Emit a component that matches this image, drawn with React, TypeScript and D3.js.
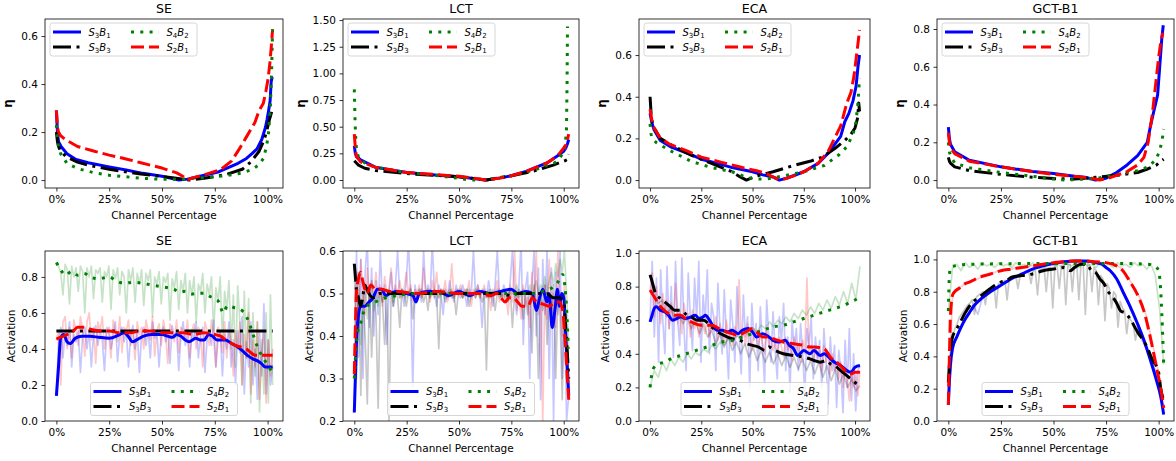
import React, { useEffect, useRef } from 'react';
import * as d3 from 'd3';

type Pt = [number, number];

// ---- top row: eta against channel percentage ----
const etaSE_S3B1: Pt[] = [[0, 0.29], [0.5, 0.2], [1, 0.16], [2.2, 0.14], [5, 0.11], [9.3, 0.086], [15, 0.072], [25, 0.055], [33, 0.042], [41, 0.028], [50, 0.016], [58, 0.0], [62, 0.004], [67, 0.014], [77, 0.035], [86, 0.07], [90, 0.09], [92.6, 0.11], [95, 0.13], [97.3, 0.17], [99, 0.22], [99.7, 0.25], [100.5, 0.29], [101.2, 0.33], [101.7, 0.41], [102.2, 0.43]];
const etaSE_S3B3: Pt[] = [[0, 0.2], [0.5, 0.16], [1, 0.14], [2, 0.12], [5, 0.095], [10, 0.075], [15, 0.062], [25, 0.045], [40, 0.025], [55, 0.01], [63, 0.0], [70, 0.008], [80, 0.022], [88, 0.045], [92, 0.075], [96, 0.12], [98, 0.16], [99.5, 0.2], [100.8, 0.25], [101.8, 0.28], [102.4, 0.3]];
const etaSE_S4B2: Pt[] = [[0, 0.23], [0.5, 0.17], [1, 0.14], [2, 0.11], [5, 0.07], [10, 0.048], [18, 0.03], [25, 0.02], [40, 0.008], [50, 0.003], [60, 0.004], [70, 0.01], [80, 0.018], [88, 0.03], [93, 0.045], [96, 0.065], [98, 0.09], [99.5, 0.14], [100.5, 0.2], [101.3, 0.3], [101.9, 0.45], [102.4, 0.64]];
const etaSE_S2B1: Pt[] = [[0, 0.29], [0.5, 0.22], [1, 0.2], [2, 0.185], [4, 0.17], [10, 0.14], [18, 0.12], [25, 0.104], [33, 0.088], [40, 0.072], [50, 0.05], [57, 0.03], [60, 0.015], [62, 0.0], [64, 0.008], [70, 0.022], [78, 0.045], [83, 0.08], [87, 0.135], [90, 0.18], [92, 0.21], [94, 0.24], [96, 0.29], [98, 0.32], [99.2, 0.37], [100.2, 0.42], [101, 0.48], [101.7, 0.55], [102.3, 0.62]];

const etaLCT_S3B1: Pt[] = [[0, 0.32], [0.5, 0.25], [1, 0.22], [3, 0.19], [10, 0.12], [25, 0.07], [40, 0.045], [50, 0.03], [58, 0.012], [63, 0.0], [70, 0.02], [75, 0.04], [82, 0.08], [87, 0.12], [92, 0.16], [95, 0.2], [98, 0.24], [100, 0.27], [101, 0.3], [101.8, 0.34], [102.4, 0.38]];
const etaLCT_S3B3: Pt[] = [[0, 0.18], [1, 0.16], [2, 0.14], [5, 0.11], [10, 0.09], [25, 0.06], [50, 0.03], [63, 0.0], [75, 0.04], [85, 0.08], [90, 0.11], [95, 0.14], [99, 0.17], [100.5, 0.18], [101.5, 0.19], [102, 0.22], [102.4, 0.24]];
const etaLCT_S4B2: Pt[] = [[0, 0.85], [0.3, 0.6], [0.6, 0.42], [1, 0.3], [2, 0.21], [5, 0.16], [10, 0.12], [25, 0.07], [40, 0.04], [50, 0.015], [55, 0.0], [63, 0.002], [68, 0.02], [75, 0.04], [85, 0.09], [90, 0.12], [92, 0.14], [95, 0.15], [98, 0.2], [99.5, 0.25], [100.5, 0.3], [101.3, 0.45], [101.6, 0.9], [101.8, 1.44]];
const etaLCT_S2B1: Pt[] = [[0, 0.43], [0.5, 0.3], [1, 0.22], [3, 0.17], [10, 0.12], [25, 0.07], [40, 0.05], [50, 0.035], [58, 0.015], [63, 0.0], [70, 0.02], [75, 0.04], [82, 0.08], [87, 0.12], [92, 0.16], [95, 0.2], [98, 0.25], [100, 0.3], [101, 0.33], [101.8, 0.38], [102.4, 0.43]];

const etaECA_S3B1: Pt[] = [[0, 0.32], [1, 0.27], [2, 0.24], [5, 0.19], [10, 0.16], [18, 0.13], [25, 0.1], [33, 0.08], [40, 0.06], [50, 0.04], [55, 0.025], [60, 0.015], [63, 0.0], [67, 0.01], [75, 0.04], [82, 0.08], [87, 0.13], [90, 0.17], [93, 0.21], [95, 0.28], [97, 0.32], [99, 0.38], [100.5, 0.45], [101.5, 0.55], [102.2, 0.6]];
const etaECA_S3B3: Pt[] = [[0, 0.4], [0.5, 0.32], [1, 0.28], [2, 0.25], [5, 0.2], [10, 0.17], [20, 0.12], [30, 0.08], [40, 0.04], [44, 0.015], [47, 0.0], [52, 0.02], [60, 0.04], [70, 0.07], [78, 0.09], [84, 0.11], [90, 0.15], [95, 0.19], [98, 0.22], [100, 0.25], [101.3, 0.3], [101.8, 0.37], [102.2, 0.33]];
const etaECA_S4B2: Pt[] = [[0, 0.27], [0.5, 0.22], [1, 0.2], [3, 0.18], [10, 0.14], [20, 0.09], [30, 0.06], [40, 0.04], [48, 0.01], [52, 0.005], [57, 0.005], [65, 0.02], [75, 0.04], [85, 0.07], [92, 0.12], [96, 0.16], [99, 0.22], [100.5, 0.28], [101.5, 0.38], [102.2, 0.49]];
const etaECA_S2B1: Pt[] = [[0, 0.34], [1, 0.28], [2, 0.25], [5, 0.2], [10, 0.17], [18, 0.14], [25, 0.11], [35, 0.085], [45, 0.06], [52, 0.045], [57, 0.03], [61, 0.01], [64, 0.0], [70, 0.02], [75, 0.04], [82, 0.08], [87, 0.14], [90, 0.2], [93, 0.26], [96, 0.37], [98, 0.42], [99.5, 0.5], [100.5, 0.58], [101.5, 0.66], [102.2, 0.72]];

const etaGCT_S3B1: Pt[] = [[0, 0.28], [0.5, 0.22], [1, 0.19], [3, 0.15], [10, 0.105], [25, 0.07], [40, 0.045], [50, 0.035], [60, 0.02], [65, 0.015], [70, 0.0], [75, 0.01], [80, 0.04], [85, 0.08], [90, 0.13], [92, 0.16], [94.6, 0.2], [96, 0.28], [97.4, 0.35], [99.5, 0.45], [100.5, 0.6], [101.5, 0.75], [102.2, 0.82]];
const etaGCT_S3B3: Pt[] = [[0, 0.12], [0.5, 0.1], [1, 0.09], [3, 0.07], [10, 0.05], [25, 0.03], [40, 0.015], [50, 0.008], [60, 0.005], [70, 0.015], [80, 0.025], [90, 0.04], [95, 0.06], [99, 0.08], [101, 0.1], [102.4, 0.11]];
const etaGCT_S4B2: Pt[] = [[0, 0.2], [0.5, 0.15], [1, 0.13], [3, 0.09], [10, 0.065], [25, 0.04], [40, 0.02], [50, 0.005], [55, 0.0], [65, 0.005], [72, 0.012], [80, 0.03], [90, 0.05], [95, 0.07], [98, 0.1], [100, 0.14], [101.5, 0.2], [102.4, 0.27]];
const etaGCT_S2B1: Pt[] = [[0, 0.25], [0.5, 0.2], [1, 0.17], [3, 0.14], [10, 0.1], [25, 0.07], [40, 0.045], [50, 0.03], [60, 0.02], [68, 0.01], [72, 0.0], [76, 0.01], [80, 0.025], [85, 0.045], [90, 0.08], [93, 0.12], [95, 0.2], [97, 0.35], [98.5, 0.5], [100, 0.65], [101, 0.73], [102, 0.78]];

// ---- bottom row: smoothed activation ----
const actSE_S3B1: Pt[] = [[0, 0.14], [1, 0.3], [2, 0.46], [3.5, 0.48], [5, 0.44], [6.5, 0.43], [9, 0.46], [12, 0.47], [16, 0.47], [20, 0.465], [25, 0.46], [30, 0.48], [32, 0.49], [34, 0.47], [36, 0.44], [38, 0.45], [41, 0.47], [45, 0.48], [50, 0.48], [53, 0.47], [55, 0.465], [57, 0.48], [59, 0.47], [61, 0.45], [63, 0.44], [66, 0.46], [68, 0.45], [70, 0.45], [72, 0.48], [74, 0.47], [76, 0.45], [80, 0.45], [83, 0.43], [86, 0.41], [89, 0.38], [91, 0.36], [93, 0.345], [95, 0.335], [97, 0.32], [99, 0.3], [102.4, 0.3]];
const actSE_S3B3: Pt[] = [[0, 0.5], [25, 0.5], [50, 0.5], [75, 0.5], [102.4, 0.5]];
const actSE_S4B2: Pt[] = [[0, 0.88], [2, 0.84], [4.6, 0.81], [7, 0.83], [10, 0.81], [13, 0.82], [16, 0.8], [20, 0.79], [25, 0.8], [28, 0.78], [32, 0.765], [36, 0.77], [41, 0.765], [45, 0.755], [50, 0.745], [53, 0.74], [56, 0.73], [58, 0.715], [61, 0.72], [64, 0.705], [67, 0.71], [70, 0.71], [73, 0.69], [75, 0.68], [77, 0.66], [79, 0.6], [81, 0.64], [84, 0.63], [87, 0.62], [90, 0.58], [92, 0.52], [94, 0.45], [96, 0.39], [98, 0.35], [100, 0.31], [102.4, 0.27]];
const actSE_S2B1: Pt[] = [[0, 0.455], [3, 0.47], [5, 0.48], [8, 0.5], [10, 0.52], [13, 0.52], [16, 0.51], [20, 0.5], [25, 0.5], [30, 0.49], [35, 0.49], [40, 0.5], [45, 0.5], [50, 0.49], [55, 0.49], [60, 0.49], [65, 0.48], [70, 0.49], [75, 0.48], [78, 0.47], [80, 0.45], [83, 0.43], [86, 0.415], [88, 0.41], [90, 0.4], [92, 0.38], [94, 0.365], [97, 0.365], [102.4, 0.365]];

const actLCT_S3B1: Pt[] = [[0, 0.22], [0.5, 0.3], [1, 0.38], [2, 0.45], [3, 0.47], [5, 0.47], [7, 0.48], [9, 0.49], [11, 0.51], [13, 0.51], [15, 0.495], [17, 0.5], [20, 0.505], [25, 0.5], [28, 0.495], [29.5, 0.48], [31, 0.5], [35, 0.505], [40, 0.505], [45, 0.495], [50, 0.505], [55, 0.495], [60, 0.505], [65, 0.5], [70, 0.505], [75, 0.51], [78, 0.5], [82, 0.505], [85, 0.5], [87, 0.46], [88.5, 0.49], [90, 0.51], [92, 0.48], [93, 0.5], [94.5, 0.42], [96, 0.47], [97, 0.51], [98, 0.47], [99, 0.5], [100, 0.49], [101, 0.4], [102.4, 0.26]];
const actLCT_S3B3: Pt[] = [[0, 0.57], [0.5, 0.54], [1, 0.51], [2, 0.49], [3, 0.47], [4, 0.49], [5, 0.52], [6, 0.51], [7, 0.5], [9, 0.49], [12, 0.5], [15, 0.5], [20, 0.5], [30, 0.5], [40, 0.5], [50, 0.5], [60, 0.5], [70, 0.5], [75, 0.495], [78, 0.5], [82, 0.5], [88, 0.5], [92, 0.5], [95, 0.49], [98, 0.49], [100, 0.48], [101, 0.42], [102.4, 0.3]];
const actLCT_S4B2: Pt[] = [[0, 0.3], [1, 0.38], [2, 0.42], [3, 0.43], [4, 0.45], [6, 0.47], [10, 0.48], [15, 0.49], [20, 0.495], [30, 0.5], [40, 0.5], [50, 0.5], [60, 0.5], [70, 0.5], [80, 0.5], [85, 0.5], [90, 0.505], [93, 0.51], [95, 0.515], [97, 0.525], [98.5, 0.54], [99.5, 0.545], [100.5, 0.52], [101.3, 0.47], [101.8, 0.42], [102.2, 0.37]];
const actLCT_S2B1: Pt[] = [[0, 0.31], [0.5, 0.42], [1, 0.5], [2, 0.535], [3, 0.55], [4, 0.53], [5, 0.51], [6, 0.5], [8, 0.52], [10, 0.51], [13, 0.51], [17, 0.505], [20, 0.505], [30, 0.5], [40, 0.505], [50, 0.5], [60, 0.5], [65, 0.495], [68, 0.5], [70, 0.49], [72, 0.48], [74, 0.49], [76, 0.49], [78, 0.48], [80, 0.47], [83, 0.47], [85, 0.49], [87, 0.48], [90, 0.475], [93, 0.47], [96, 0.48], [98, 0.48], [99.5, 0.46], [100.5, 0.4], [101.5, 0.32], [102.4, 0.25]];

const actECA_S3B1: Pt[] = [[0, 0.59], [1, 0.63], [2, 0.67], [3, 0.68], [5, 0.66], [7, 0.65], [9, 0.63], [11, 0.6], [13, 0.61], [15, 0.62], [17, 0.61], [20, 0.62], [22, 0.63], [24, 0.61], [26, 0.62], [27, 0.63], [29, 0.6], [31, 0.56], [33, 0.54], [35, 0.54], [38, 0.53], [40, 0.54], [43, 0.52], [45, 0.54], [48, 0.55], [50, 0.53], [52, 0.5], [55, 0.52], [58, 0.5], [60, 0.48], [63, 0.47], [66, 0.48], [68, 0.45], [70, 0.43], [72, 0.39], [75, 0.42], [78, 0.4], [80, 0.42], [83, 0.39], [85, 0.4], [88, 0.37], [90, 0.35], [93, 0.33], [96, 0.3], [98, 0.29], [100, 0.32], [102.4, 0.33]];
const actECA_S3B3: Pt[] = [[0, 0.87], [1, 0.83], [3, 0.75], [5, 0.73], [8, 0.7], [10, 0.68], [12, 0.66], [15, 0.66], [18, 0.63], [20, 0.62], [23, 0.6], [26, 0.6], [30, 0.56], [33, 0.53], [36, 0.51], [40, 0.49], [44, 0.48], [47, 0.46], [50, 0.45], [53, 0.44], [56, 0.42], [58, 0.44], [61, 0.42], [65, 0.4], [70, 0.39], [75, 0.38], [78, 0.37], [80, 0.36], [83, 0.35], [86, 0.36], [88, 0.34], [90, 0.33], [93, 0.3], [96, 0.27], [99, 0.24], [101, 0.22], [102.4, 0.21]];
const actECA_S4B2: Pt[] = [[0, 0.2], [0.5, 0.25], [1, 0.29], [2, 0.32], [4, 0.34], [7, 0.35], [10, 0.37], [15, 0.39], [20, 0.41], [25, 0.43], [30, 0.45], [35, 0.47], [40, 0.48], [45, 0.5], [50, 0.52], [55, 0.54], [60, 0.56], [65, 0.57], [70, 0.59], [75, 0.61], [80, 0.63], [85, 0.65], [90, 0.67], [95, 0.69], [98, 0.71], [100, 0.72], [102.4, 0.74]];
const actECA_S2B1: Pt[] = [[0, 0.78], [2, 0.74], [4, 0.7], [6, 0.67], [9, 0.64], [12, 0.63], [15, 0.63], [18, 0.6], [20, 0.59], [25, 0.57], [30, 0.57], [35, 0.54], [40, 0.52], [43, 0.51], [45, 0.52], [48, 0.54], [50, 0.55], [52, 0.53], [55, 0.5], [58, 0.5], [60, 0.49], [65, 0.47], [70, 0.46], [75, 0.45], [78, 0.44], [80, 0.44], [85, 0.43], [88, 0.38], [90, 0.36], [93, 0.33], [96, 0.29], [98, 0.28], [100, 0.29], [102.4, 0.29]];

const actGCT_S3B1: Pt[] = [[0, 0.1], [0.5, 0.25], [1, 0.35], [2, 0.45], [4, 0.52], [6, 0.58], [8, 0.63], [10, 0.67], [12, 0.71], [15, 0.75], [20, 0.8], [25, 0.84], [30, 0.88], [35, 0.91], [40, 0.94], [45, 0.96], [50, 0.975], [55, 0.985], [60, 0.99], [65, 0.99], [70, 0.98], [73, 0.97], [75, 0.95], [77, 0.93], [80, 0.88], [83, 0.8], [86, 0.72], [90, 0.6], [93, 0.5], [96, 0.38], [99, 0.25], [101, 0.15], [102.4, 0.04]];
const actGCT_S3B3: Pt[] = [[0, 0.24], [0.5, 0.35], [1, 0.45], [2, 0.52], [4, 0.57], [6, 0.62], [8, 0.67], [10, 0.71], [12, 0.74], [15, 0.77], [20, 0.82], [25, 0.86], [28, 0.87], [30, 0.89], [35, 0.9], [40, 0.91], [45, 0.93], [50, 0.94], [55, 0.95], [58, 0.93], [60, 0.95], [63, 0.97], [66, 0.97], [68, 0.93], [70, 0.92], [72, 0.88], [74, 0.85], [76, 0.8], [78, 0.77], [80, 0.73], [82, 0.68], [84, 0.67], [86, 0.64], [90, 0.55], [94, 0.47], [97, 0.38], [100, 0.3], [101, 0.2], [102.4, 0.13]];
const actGCT_S4B2: Pt[] = [[0, 0.68], [0.5, 0.9], [1, 0.95], [3, 0.96], [10, 0.97], [50, 0.975], [80, 0.975], [95, 0.97], [98, 0.96], [100, 0.93], [101, 0.8], [102, 0.5], [102.4, 0.35]];
const actGCT_S2B1: Pt[] = [[0, 0.1], [0.5, 0.4], [1, 0.65], [2, 0.78], [3, 0.8], [5, 0.82], [8, 0.85], [10, 0.86], [15, 0.89], [20, 0.91], [25, 0.93], [30, 0.94], [35, 0.95], [40, 0.96], [45, 0.97], [50, 0.98], [55, 0.985], [60, 0.99], [65, 0.99], [70, 0.985], [75, 0.98], [80, 0.96], [83, 0.93], [86, 0.87], [90, 0.78], [93, 0.68], [96, 0.52], [99, 0.33], [101, 0.2], [102.4, 0.08]];

// ---- bottom row: raw activation, channels evenly spaced from 0 to 102.4% ----
const rawSE_S3B1 = [
  0.14, 0.45, 0.52, 0.35, 0.5, 0.42, 0.55, 0.3, 0.48, 0.44,
  0.5, 0.27, 0.47, 0.52, 0.4, 0.5, 0.3, 0.48, 0.53, 0.42,
  0.5, 0.45, 0.28, 0.49, 0.52, 0.4, 0.47, 0.55, 0.33, 0.48,
  0.52, 0.44, 0.5, 0.3, 0.47, 0.53, 0.4, 0.5, 0.27, 0.48,
  0.52, 0.42, 0.5, 0.35, 0.55, 0.46, 0.5, 0.3, 0.48, 0.52,
  0.44, 0.5, 0.32, 0.53, 0.46, 0.5, 0.28, 0.47, 0.55, 0.42,
  0.48, 0.3, 0.5, 0.45, 0.55, 0.35, 0.48, 0.52, 0.27, 0.46,
  0.5, 0.42, 0.56, 0.3, 0.46, 0.5, 0.25, 0.48, 0.4, 0.55,
  0.3, 0.45, 0.2, 0.5, 0.38, 0.58, 0.15, 0.44, 0.3, 0.55,
  0.2, 0.4, 0.12, 0.5, 0.25, 0.65, 0.15, 0.45, 0.2, 0.3];
const rawSE_S4B2 = [
  0.88, 0.86, 0.82, 0.7, 0.87, 0.84, 0.65, 0.86, 0.8, 0.85,
  0.72, 0.86, 0.83, 0.6, 0.85, 0.8, 0.86, 0.68, 0.84, 0.82,
  0.85, 0.66, 0.83, 0.8, 0.86, 0.62, 0.84, 0.79, 0.85, 0.7,
  0.83, 0.8, 0.6, 0.84, 0.78, 0.85, 0.66, 0.82, 0.76, 0.84,
  0.64, 0.82, 0.78, 0.84, 0.58, 0.8, 0.76, 0.83, 0.65, 0.8,
  0.77, 0.82, 0.56, 0.79, 0.74, 0.83, 0.62, 0.78, 0.72, 0.82,
  0.6, 0.78, 0.7, 0.8, 0.55, 0.76, 0.72, 0.82, 0.6, 0.76,
  0.7, 0.8, 0.5, 0.74, 0.66, 0.8, 0.45, 0.72, 0.62, 0.78,
  0.4, 0.7, 0.3, 0.75, 0.55, 0.2, 0.72, 0.35, 0.68, 0.1,
  0.6, 0.25, 0.55, 0.05, 0.45, 0.15, 0.6, 0.1, 0.7, 0.2];
const rawSE_S2B1 = [
  0.45, 0.5, 0.2, 0.55, 0.58, 0.4, 0.52, 0.35, 0.56, 0.5,
  0.42, 0.58, 0.5, 0.36, 0.55, 0.6, 0.45, 0.52, 0.32, 0.55,
  0.5, 0.58, 0.4, 0.52, 0.48, 0.35, 0.56, 0.5, 0.44, 0.58,
  0.38, 0.52, 0.5, 0.56, 0.42, 0.5, 0.34, 0.55, 0.48, 0.52,
  0.4, 0.56, 0.5, 0.45, 0.58, 0.36, 0.5, 0.54, 0.42, 0.56,
  0.48, 0.32, 0.54, 0.5, 0.44, 0.56, 0.38, 0.52, 0.5, 0.45,
  0.56, 0.35, 0.5, 0.54, 0.4, 0.52, 0.48, 0.3, 0.55, 0.5,
  0.42, 0.56, 0.46, 0.3, 0.52, 0.48, 0.38, 0.55, 0.35, 0.5,
  0.45, 0.25, 0.5, 0.4, 0.55, 0.2, 0.48, 0.35, 0.6, 0.15,
  0.45, 0.3, 0.55, 0.12, 0.4, 0.5, 0.1, 0.45, 0.25, 0.4];

const rawLCT_S3B1 = [
  0.22, 0.6, 0.35, 0.58, 0.3, 0.55, 0.62, 0.42, 0.56, 0.4,
  0.53, 0.45, 0.6, 0.48, 0.52, 0.38, 0.5, 0.55, 0.47, 0.52,
  0.6, 0.49, 0.51, 0.47, 0.53, 0.62, 0.5, 0.28, 0.52, 0.49,
  0.51, 0.48, 0.6, 0.5, 0.52, 0.49, 0.62, 0.5, 0.47, 0.52,
  0.5, 0.45, 0.51, 0.49, 0.53, 0.5, 0.48, 0.52, 0.5, 0.49,
  0.52, 0.5, 0.47, 0.51, 0.5, 0.6, 0.49, 0.52, 0.5, 0.42,
  0.51, 0.49, 0.53, 0.5, 0.47, 0.52, 0.6, 0.5, 0.49, 0.52,
  0.5, 0.48, 0.53, 0.6, 0.5, 0.45, 0.52, 0.62, 0.38, 0.51,
  0.55, 0.3, 0.52, 0.6, 0.4, 0.56, 0.25, 0.58, 0.45, 0.6,
  0.3, 0.56, 0.2, 0.55, 0.45, 0.6, 0.3, 0.5, 0.2, 0.26];
const rawLCT_S3B3 = [
  0.57, 0.3, 0.55, 0.26, 0.5, 0.4, 0.24, 0.52, 0.35, 0.5,
  0.45, 0.23, 0.5, 0.48, 0.38, 0.51, 0.2, 0.5, 0.47, 0.5,
  0.49, 0.42, 0.51, 0.5, 0.47, 0.5, 0.51, 0.44, 0.5, 0.49,
  0.5, 0.51, 0.48, 0.5, 0.46, 0.51, 0.5, 0.49, 0.5, 0.37,
  0.51, 0.5, 0.48, 0.5, 0.51, 0.49, 0.5, 0.45, 0.5, 0.51,
  0.49, 0.5, 0.51, 0.47, 0.5, 0.5, 0.49, 0.51, 0.5, 0.48,
  0.5, 0.32, 0.51, 0.49, 0.5, 0.46, 0.5, 0.51, 0.49, 0.5,
  0.48, 0.5, 0.51, 0.42, 0.5, 0.49, 0.51, 0.5, 0.44, 0.5,
  0.45, 0.5, 0.36, 0.52, 0.48, 0.3, 0.5, 0.46, 0.52, 0.38,
  0.5, 0.42, 0.52, 0.3, 0.5, 0.45, 0.25, 0.5, 0.4, 0.3];
const rawLCT_S4B2 = [
  0.3, 0.42, 0.5, 0.38, 0.47, 0.52, 0.44, 0.49, 0.53, 0.46,
  0.5, 0.47, 0.51, 0.48, 0.5, 0.49, 0.51, 0.5, 0.48, 0.51,
  0.5, 0.49, 0.51, 0.5, 0.49, 0.5, 0.51, 0.49, 0.5, 0.5,
  0.51, 0.49, 0.5, 0.5, 0.51, 0.49, 0.5, 0.51, 0.5, 0.49,
  0.5, 0.51, 0.49, 0.5, 0.5, 0.51, 0.49, 0.5, 0.51, 0.5,
  0.49, 0.5, 0.51, 0.5, 0.49, 0.5, 0.51, 0.5, 0.49, 0.51,
  0.5, 0.5, 0.49, 0.51, 0.5, 0.5, 0.51, 0.49, 0.5, 0.51,
  0.5, 0.49, 0.51, 0.5, 0.5, 0.52, 0.49, 0.5, 0.51, 0.5,
  0.5, 0.52, 0.49, 0.51, 0.53, 0.5, 0.52, 0.51, 0.54, 0.5,
  0.53, 0.55, 0.52, 0.57, 0.54, 0.58, 0.55, 0.6, 0.5, 0.37];
const rawLCT_S2B1 = [
  0.31, 0.55, 0.42, 0.58, 0.5, 0.45, 0.56, 0.48, 0.53, 0.5,
  0.55, 0.49, 0.52, 0.47, 0.54, 0.5, 0.51, 0.56, 0.49, 0.52,
  0.5, 0.53, 0.49, 0.51, 0.55, 0.5, 0.52, 0.48, 0.51, 0.5,
  0.52, 0.49, 0.56, 0.5, 0.51, 0.48, 0.53, 0.5, 0.55, 0.49,
  0.51, 0.5, 0.53, 0.48, 0.5, 0.57, 0.49, 0.51, 0.5, 0.52,
  0.49, 0.51, 0.5, 0.53, 0.47, 0.51, 0.5, 0.52, 0.49, 0.5,
  0.52, 0.49, 0.5, 0.46, 0.51, 0.5, 0.53, 0.48, 0.5, 0.49,
  0.5, 0.45, 0.52, 0.48, 0.6, 0.46, 0.5, 0.44, 0.52, 0.47,
  0.49, 0.42, 0.55, 0.47, 0.6, 0.45, 0.5, 0.2, 0.52, 0.44,
  0.58, 0.45, 0.5, 0.42, 0.6, 0.48, 0.4, 0.52, 0.3, 0.25];

const rawECA_S3B1 = [
  0.59, 0.95, 0.5, 0.85, 0.35, 0.9, 0.6, 0.4, 0.92, 0.55,
  0.8, 0.38, 0.95, 0.6, 0.45, 0.97, 0.55, 0.3, 0.88, 0.62,
  0.42, 0.85, 0.6, 0.95, 0.35, 0.75, 0.6, 0.9, 0.4, 0.7,
  0.62, 0.3, 0.82, 0.55, 0.4, 0.78, 0.5, 0.25, 0.72, 0.58,
  0.35, 0.8, 0.52, 0.28, 0.75, 0.5, 0.62, 0.2, 0.7, 0.48,
  0.58, 0.3, 0.68, 0.45, 0.22, 0.72, 0.5, 0.35, 0.65, 0.42,
  0.25, 0.62, 0.48, 0.7, 0.3, 0.5, 0.18, 0.6, 0.42, 0.55,
  0.3, 0.58, 0.4, 0.15, 0.55, 0.45, 0.62, 0.25, 0.5, 0.35,
  0.48, 0.2, 0.55, 0.35, 0.1, 0.5, 0.3, 0.45, 0.08, 0.42,
  0.3, 0.05, 0.48, 0.2, 0.55, 0.12, 0.4, 0.06, 0.3, 0.33];
const rawECA_S3B3 = [0.87, 0.75, 0.7, 0.72, 0.62, 0.68, 0.6, 0.64, 0.58, 0.62, 0.55, 0.6, 0.52, 0.58, 0.5, 0.54, 0.46, 0.52, 0.44, 0.5, 0.42, 0.47, 0.4, 0.46, 0.38, 0.44, 0.36, 0.42, 0.35, 0.41, 0.34, 0.4, 0.33, 0.39, 0.32, 0.38, 0.31, 0.37, 0.3, 0.36, 0.28, 0.35, 0.26, 0.33, 0.24, 0.31, 0.22, 0.28, 0.2, 0.25, 0.18, 0.21];
const rawECA_S4B2 = [0.2, 0.3, 0.26, 0.35, 0.3, 0.37, 0.33, 0.38, 0.35, 0.4, 0.37, 0.41, 0.39, 0.43, 0.41, 0.45, 0.43, 0.47, 0.45, 0.49, 0.47, 0.51, 0.49, 0.53, 0.51, 0.55, 0.53, 0.57, 0.55, 0.59, 0.56, 0.6, 0.58, 0.62, 0.59, 0.64, 0.61, 0.66, 0.63, 0.68, 0.64, 0.7, 0.66, 0.72, 0.67, 0.74, 0.69, 0.77, 0.7, 0.82, 0.72, 0.92];
const rawECA_S2B1 = [
  0.78, 0.88, 0.62, 0.8, 0.7, 0.58, 0.76, 0.66, 0.72, 0.55,
  0.7, 0.6, 0.82, 0.58, 0.66, 0.52, 0.7, 0.6, 0.64, 0.5,
  0.66, 0.55, 0.62, 0.5, 0.6, 0.56, 0.52, 0.62, 0.5, 0.58,
  0.54, 0.62, 0.48, 0.58, 0.52, 0.46, 0.6, 0.5, 0.55, 0.45,
  0.56, 0.5, 0.84, 0.48, 0.55, 0.45, 0.58, 0.5, 0.42, 0.55,
  0.5, 0.44, 0.52, 0.46, 0.4, 0.55, 0.45, 0.5, 0.42, 0.48,
  0.4, 0.5, 0.44, 0.38, 0.5, 0.42, 0.46, 0.36, 0.5, 0.42,
  0.45, 0.35, 0.48, 0.4, 0.85, 0.38, 0.45, 0.35, 0.44, 0.38,
  0.42, 0.3, 0.45, 0.35, 0.4, 0.28, 0.4, 0.3, 0.35, 0.25,
  0.35, 0.2, 0.32, 0.25, 0.12, 0.3, 0.2, 0.28, 0.15, 0.3];

const rawGCT_S3B1 = [0.1, 0.45, 0.52, 0.58, 0.63, 0.67, 0.71, 0.66, 0.76, 0.78, 0.8, 0.82, 0.83, 0.85, 0.86, 0.88, 0.89, 0.9, 0.92, 0.93, 0.94, 0.95, 0.96, 0.96, 0.97, 0.975, 0.98, 0.985, 0.985, 0.99, 0.99, 0.99, 0.99, 0.99, 0.985, 0.98, 0.975, 0.96, 0.94, 0.91, 0.88, 0.83, 0.77, 0.72, 0.66, 0.6, 0.53, 0.46, 0.38, 0.29, 0.2, 0.04];
const rawGCT_S3B3 = [
  0.24, 0.42, 0.52, 0.57, 0.6, 0.64, 0.66, 0.68, 0.7, 0.72,
  0.73, 0.75, 0.66, 0.77, 0.78, 0.79, 0.8, 0.72, 0.81, 0.82,
  0.83, 0.84, 0.7, 0.85, 0.86, 0.86, 0.87, 0.75, 0.88, 0.89,
  0.89, 0.9, 0.82, 0.9, 0.91, 0.91, 0.92, 0.92, 0.85, 0.93,
  0.93, 0.78, 0.94, 0.94, 0.95, 0.8, 0.95, 0.95, 0.7, 0.96,
  0.96, 0.82, 0.96, 0.97, 0.72, 0.97, 0.97, 0.8, 0.97, 0.98,
  0.75, 0.98, 0.97, 0.66, 0.98, 0.96, 0.8, 0.95, 0.93, 0.72,
  0.9, 0.88, 0.62, 0.85, 0.82, 0.7, 0.8, 0.78, 0.58, 0.74,
  0.7, 0.68, 0.54, 0.65, 0.62, 0.6, 0.5, 0.57, 0.54, 0.5,
  0.48, 0.45, 0.42, 0.38, 0.35, 0.32, 0.28, 0.22, 0.18, 0.13];
const rawGCT_S4B2 = [0.68, 0.95, 0.97, 0.93, 0.98, 0.95, 0.97, 0.94, 0.98, 0.96, 0.97, 0.95, 0.98, 0.96, 0.97, 0.95, 0.98, 0.96, 0.97, 0.95, 0.98, 0.96, 0.97, 0.95, 0.98, 0.96, 0.97, 0.95, 0.98, 0.96, 0.97, 0.95, 0.98, 0.96, 0.97, 0.95, 0.98, 0.96, 0.97, 0.95, 0.98, 0.96, 0.97, 0.95, 0.98, 0.96, 0.97, 0.94, 0.97, 0.9, 0.7, 0.35];
const rawGCT_S2B1 = [0.1, 0.78, 0.81, 0.83, 0.85, 0.86, 0.87, 0.88, 0.89, 0.9, 0.91, 0.92, 0.93, 0.93, 0.94, 0.94, 0.95, 0.95, 0.955, 0.96, 0.96, 0.965, 0.97, 0.975, 0.975, 0.98, 0.98, 0.985, 0.985, 0.99, 0.99, 0.99, 0.99, 0.99, 0.985, 0.985, 0.98, 0.98, 0.975, 0.97, 0.96, 0.945, 0.91, 0.87, 0.83, 0.78, 0.72, 0.64, 0.52, 0.4, 0.26, 0.08];

const titles = ['SE', 'LCT', 'ECA', 'GCT-B1'];
const seriesLabels = [['S', '3', 'B', '1'], ['S', '3', 'B', '3'], ['S', '4', 'B', '2'], ['S', '2', 'B', '1']];
const xTicks = [0, 25, 50, 75, 100];
const rawXMax = 102.4;

// series order: S3B1, S3B3, S4B2, S2B1
const styles = [
  { color: '#0000ff', dash: null },
  { color: '#000000', dash: '18,5.5,3,5.5' },
  { color: '#008000', dash: '3,6.3' },
  { color: '#ff0000', dash: '13,5' },
];

const panels = [
  { row: 0, col: 0, lines: [etaSE_S3B1, etaSE_S3B3, etaSE_S4B2, etaSE_S2B1], raw: [], y: [-0.033, 0.671], ticks: [0, 0.2, 0.4, 0.6], fmt: '.1f' },
  { row: 0, col: 1, lines: [etaLCT_S3B1, etaLCT_S3B3, etaLCT_S4B2, etaLCT_S2B1], raw: [], y: [-0.075, 1.51], ticks: [0, 0.25, 0.5, 0.75, 1, 1.25, 1.5], fmt: '.2f' },
  { row: 0, col: 2, lines: [etaECA_S3B1, etaECA_S3B3, etaECA_S4B2, etaECA_S2B1], raw: [], y: [-0.038, 0.773], ticks: [0, 0.2, 0.4, 0.6], fmt: '.1f' },
  { row: 0, col: 3, lines: [etaGCT_S3B1, etaGCT_S3B3, etaGCT_S4B2, etaGCT_S2B1], raw: [], y: [-0.042, 0.853], ticks: [0, 0.2, 0.4, 0.6, 0.8], fmt: '.1f' },
  { row: 1, col: 0, lines: [actSE_S3B1, actSE_S3B3, actSE_S4B2, actSE_S2B1], raw: [rawSE_S3B1, null, rawSE_S4B2, rawSE_S2B1], y: [0, 0.944], ticks: [0, 0.2, 0.4, 0.6, 0.8], fmt: '.1f' },
  { row: 1, col: 1, lines: [actLCT_S3B1, actLCT_S3B3, actLCT_S4B2, actLCT_S2B1], raw: [rawLCT_S3B1, rawLCT_S3B3, rawLCT_S4B2, rawLCT_S2B1], y: [0.2, 0.6], ticks: [0.2, 0.3, 0.4, 0.5, 0.6], fmt: '.1f' },
  { row: 1, col: 2, lines: [actECA_S3B1, actECA_S3B3, actECA_S4B2, actECA_S2B1], raw: [rawECA_S3B1, rawECA_S3B3, rawECA_S4B2, rawECA_S2B1], y: [0, 1.012], ticks: [0, 0.2, 0.4, 0.6, 0.8, 1], fmt: '.1f' },
  { row: 1, col: 3, lines: [actGCT_S3B1, actGCT_S3B3, actGCT_S4B2, actGCT_S2B1], raw: [rawGCT_S3B1, rawGCT_S3B3, rawGCT_S4B2, rawGCT_S2B1], y: [0, 1.052], ticks: [0, 0.2, 0.4, 0.6, 0.8, 1], fmt: '.1f' },
];

// layout
const W = 1176, H = 461;
const colLeft = [45, 343, 639, 937];
const colRight = [283, 579, 870, 1174];
const rowTop = [19, 251];
const rowBottom = [188, 421];
const FONT = 'DejaVu Sans, sans-serif';

function drawLegend(g: any, bx: number, by: number) {
  const lg = g.append('g').attr('transform', `translate(${bx},${by})`);
  lg.append('rect')
    .attr('width', 147).attr('height', 33).attr('rx', 2.5)
    .attr('fill', '#fff').attr('fill-opacity', 0.8)
    .attr('stroke', '#cccccc').attr('stroke-width', 0.8);
  seriesLabels.forEach((lab, k) => {
    const lx = k < 2 ? 3 : 81;
    const ly = k % 2 === 0 ? 9 : 24;
    const s = styles[k];
    lg.append('line')
      .attr('x1', lx).attr('x2', lx + 28).attr('y1', ly).attr('y2', ly)
      .attr('stroke', s.color).attr('stroke-width', 3)
      .attr('stroke-dasharray', s.dash);
    const t = lg.append('text')
      .attr('x', lx + 35.5).attr('y', ly + 3.5)
      .attr('font-family', FONT).attr('font-size', 10);
    t.append('tspan').attr('font-style', 'italic').text(lab[0]);
    t.append('tspan').attr('font-size', 7).attr('dy', 2.2).text(lab[1]);
    t.append('tspan').attr('font-style', 'italic').attr('dy', -2.2).text(lab[2]);
    t.append('tspan').attr('font-size', 7).attr('dy', 2.2).text(lab[3]);
  });
}

export default function App() {
  const ref = useRef<SVGSVGElement>(null);

  useEffect(() => {
    const svg = d3.select(ref.current);
    svg.selectAll('*').remove();

    panels.forEach((p, i) => {
      const left = colLeft[p.col], right = colRight[p.col];
      const top = rowTop[p.row], bottom = rowBottom[p.row];
      const x = d3.scaleLinear().domain([-5.4, 107.3]).range([left, right]);
      const y = d3.scaleLinear().domain(p.y).range([bottom, top]);
      const g = svg.append('g');

      g.append('clipPath').attr('id', `clip${i}`)
        .append('rect').attr('x', left).attr('y', top)
        .attr('width', right - left).attr('height', bottom - top);
      const plot = g.append('g').attr('clip-path', `url(#clip${i})`);

      // raw activations, faint
      p.raw.forEach((vals: number[] | null, k: number) => {
        if (!vals) return;
        const raw = d3.line<number>()
          .x((_, j) => x((j / (vals.length - 1)) * rawXMax))
          .y(d => y(d));
        plot.append('path').datum(vals)
          .attr('fill', 'none').attr('stroke', styles[k].color)
          .attr('stroke-opacity', 0.22).attr('stroke-width', 1.7)
          .attr('stroke-linejoin', 'round')
          .attr('d', raw);
      });

      // main curves
      const line = d3.line<Pt>()
        .x(d => x(d[0])).y(d => y(d[1]))
        .curve(p.row === 1 ? d3.curveMonotoneX : d3.curveLinear);
      p.lines.forEach((pts, k) => {
        plot.append('path').datum(pts)
          .attr('fill', 'none').attr('stroke', styles[k].color)
          .attr('stroke-width', 3).attr('stroke-linejoin', 'round')
          .attr('stroke-dasharray', styles[k].dash)
          .attr('d', line);
      });

      // axes
      const xa = g.append('g').attr('transform', `translate(0,${bottom})`)
        .call(d3.axisBottom(x).tickValues(xTicks).tickFormat(d => `${d}%`).tickSize(3.5).tickPadding(4));
      const ya = g.append('g').attr('transform', `translate(${left},0)`)
        .call(d3.axisLeft(y).tickValues(p.ticks).tickFormat(d3.format(p.fmt)).tickSize(3.5).tickPadding(3.5));
      [xa, ya].forEach(a => {
        a.select('.domain').remove();
        a.attr('font-family', FONT).attr('font-size', 10.5);
        a.selectAll('line').attr('stroke', '#000').attr('stroke-width', 0.8);
        a.selectAll('text').attr('fill', '#000');
      });

      // frame
      g.append('rect')
        .attr('x', left).attr('y', top)
        .attr('width', right - left).attr('height', bottom - top)
        .attr('fill', 'none').attr('stroke', '#000').attr('stroke-width', 0.8);

      const cx = (left + right) / 2, cy = (top + bottom) / 2;
      g.append('text').attr('x', cx).attr('y', top - 6.3)
        .attr('text-anchor', 'middle').attr('font-family', FONT).attr('font-size', 12.6)
        .text(titles[p.col]);
      g.append('text').attr('x', cx).attr('y', bottom + 31)
        .attr('text-anchor', 'middle').attr('font-family', FONT).attr('font-size', 10.5)
        .text('Channel Percentage');

      const tickW = p.fmt === '.2f' ? 22.3 : 16.7;
      if (p.row === 0) {
        g.append('text')
          .attr('transform', `translate(${left - tickW - 16},${cy}) rotate(-90)`)
          .attr('text-anchor', 'middle').attr('font-family', FONT)
          .attr('font-size', 12).attr('font-weight', 'bold')
          .text('η');
        drawLegend(g, left + 5, top + 4);
      } else {
        g.append('text')
          .attr('transform', `translate(${left - tickW - 13.5},${cy}) rotate(-90)`)
          .attr('text-anchor', 'middle').attr('font-family', FONT).attr('font-size', 10.5)
          .text('Activation');
        drawLegend(g, cx - 73.5, bottom - 5.5 - 33);
      }
    });
  }, []);

  return (
    <svg ref={ref} width={W} height={H}
      style={{ position: 'absolute', left: 0, top: 0, background: '#fff' }} />
  );
}
